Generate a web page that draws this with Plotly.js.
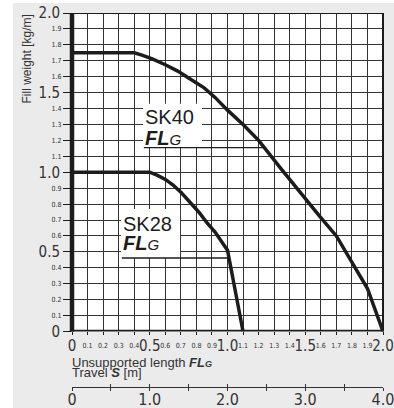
<!DOCTYPE html>
<html><head><meta charset="utf-8">
<script src="https://cdn.plot.ly/plotly-3.0.1.min.js"></script>
<style>html,body{margin:0;padding:0;background:#fff}</style>
</head><body><div id="chart" style="width:394px;height:408px"></div>
<script>
// ---- data ----
const sk40X = [0, 0.4, 0.45, 0.52, 0.6, 0.68, 0.76, 0.85, 0.92, 1.0, 1.1, 1.2, 1.35, 1.5, 1.6, 1.7, 1.9, 2.0];
const sk40Y = [1.75, 1.75, 1.735, 1.71, 1.675, 1.635, 1.585, 1.53, 1.47, 1.39, 1.30, 1.20, 1.015, 0.83, 0.715, 0.60, 0.27, 0];
const sk28X = [0, 0.5, 0.55, 0.6, 0.65, 0.7, 0.76, 0.82, 0.87, 0.92, 1.0, 1.1];
const sk28Y = [1.0, 1.0, 0.98, 0.955, 0.92, 0.875, 0.81, 0.745, 0.68, 0.625, 0.51, 0];

const xMajorVals = [0, 0.5, 1.0, 1.5, 2.0];
const xMajorText = ['0', '0.5', '1.0', '1.5', '2.0'];
const xMinorVals = [0.1,0.2,0.3,0.4,0.6,0.7,0.8,0.9,1.1,1.2,1.3,1.4,1.6,1.7,1.8,1.9];
const xMinorText = ['0.1','0.2','0.3','0.4','0.6','0.7','0.8','0.9','1.1','1.2','1.3','1.4','1.6','1.7','1.8','1.9'];
const yMajorVals = [0, 0.5, 1.0, 1.5, 2.0];
const yMajorText = ['0', '0.5', '1.0', '1.5', '2.0'];
const yMinorVals = [0.1,0.2,0.3,0.4,0.6,0.7,0.8,0.9,1.1,1.2,1.3,1.4,1.6,1.7,1.8,1.9];
const yMinorText = ['0.1','0.2','0.3','0.4','0.6','0.7','0.8','0.9','1.1','1.2','1.3','1.4','1.6','1.7','1.8','1.9'];
const travelVals = [0, 0.5, 1.0, 1.5, 2.0, 2.5, 3.0, 3.5, 4.0];
const travelText = ['0', ' ', '1.0', ' ', '2.0', ' ', '3.0', ' ', '4.0'];

const seriesNames = ['SK40', 'SK28'];
const yTitle = 'Fill weight [kg/m]';
const xTitle1 = 'Unsupported length <b><i>FL<span style="font-size:9px">G</span></i></b>';
const xTitle2 = 'Travel <b><i>S</i></b> [m]';
const flgLabel = '<b><i>FL</i></b><i><span style="font-size:15px">G</span></i>';

// ---- styling ----
const NARROW = '"Liberation Sans Narrow", "DejaVu Sans Condensed", Arial, sans-serif';
const SANS = '"Liberation Sans", Arial, sans-serif';
const INK = '#1c1c1c';
const GRID = '#333333';
const TXT = '#333333';
const BG = '#ebebeb';
const Y0 = 0.1484;

const hidden = {type: 'scatter', mode: 'lines', line: {width: 0, color: 'rgba(0,0,0,0)'},
                hoverinfo: 'skip', showlegend: false};
const traces = [
  {x: sk40X, y: sk40Y, name: seriesNames[0], type: 'scatter', mode: 'lines',
   line: {color: INK, width: 3.5}, hoverinfo: 'skip', cliponaxis: false},
  {x: sk28X, y: sk28Y, name: seriesNames[1], type: 'scatter', mode: 'lines',
   line: {color: INK, width: 3.5}, hoverinfo: 'skip', cliponaxis: false},
  // carriers so the overlaid label axes are drawn (no visible marks)
  Object.assign({}, hidden, {x: travelVals, y: travelVals.map(() => null), xaxis: 'x2', yaxis: 'y'}),
  Object.assign({}, hidden, {x: xMinorVals, y: xMinorVals.map(() => null), xaxis: 'x3', yaxis: 'y'}),
  Object.assign({}, hidden, {x: travelVals, y: travelVals.map(() => null), xaxis: 'x4', yaxis: 'y'}),
  Object.assign({}, hidden, {x: yMinorVals.map(() => null), y: yMinorVals, xaxis: 'x', yaxis: 'y2'})
];

const layout = {
  width: 394, height: 408,
  margin: {l: 72, r: 11, t: 13, b: 21, pad: 0},
  paper_bgcolor: BG, plot_bgcolor: '#ffffff',
  showlegend: false,
  xaxis: {domain: [0, 1], range: [0, 2], anchor: 'y', tickmode: 'array',
    tickvals: xMajorVals, ticktext: xMajorText, ticks: 'outside', ticklen: 3, tickcolor: INK,
    showgrid: true, gridcolor: GRID, gridwidth: 1, zeroline: false, showline: false,
    ticklabelstandoff: -2, ticklabeloverflow: 'allow',
    tickfont: {family: NARROW, size: 15, color: TXT}, fixedrange: true,
    minor: {tickmode: 'array', tickvals: xMinorVals, showgrid: true, gridcolor: GRID, gridwidth: 1,
            ticks: 'outside', ticklen: 3, tickcolor: INK}},
  xaxis3: {overlaying: 'x', anchor: 'y', range: [0, 2], tickmode: 'array',
    tickvals: xMinorVals, ticktext: xMinorText, ticks: 'outside', ticklen: 3, tickcolor: INK,
    showgrid: false, zeroline: false, showline: false, ticklabelstandoff: 4,
    tickfont: {family: NARROW, size: 7, color: TXT}, fixedrange: true},
  xaxis2: {overlaying: 'x', anchor: 'free', position: 0, range: [0, 4], tickmode: 'array',
    tickvals: travelVals, ticktext: travelText, ticks: 'outside', ticklen: 3, tickcolor: TXT,
    showline: true, linecolor: TXT, linewidth: 1, showgrid: false, zeroline: false,
    ticklabelstandoff: -5, ticklabeloverflow: 'allow',
    tickfont: {family: NARROW, size: 16, color: TXT}, fixedrange: true},
  xaxis4: {overlaying: 'x', anchor: 'free', position: 0, range: [0, 4], tickmode: 'array',
    tickvals: travelVals, ticks: 'inside', ticklen: 3, tickcolor: TXT, showticklabels: false,
    showgrid: false, zeroline: false, showline: false, fixedrange: true},
  yaxis: {domain: [Y0, 1], range: [0, 2], anchor: 'x', tickmode: 'array',
    tickvals: yMajorVals, ticktext: yMajorText, ticks: 'outside', ticklen: 8, tickcolor: INK,
    showgrid: true, gridcolor: GRID, gridwidth: 1, zeroline: false, showline: false,
    ticklabeloverflow: 'allow',
    tickfont: {family: NARROW, size: 15, color: TXT}, fixedrange: true,
    minor: {tickmode: 'array', tickvals: yMinorVals, showgrid: true, gridcolor: GRID, gridwidth: 1,
            ticks: 'outside', ticklen: 8, tickcolor: INK}},
  yaxis2: {overlaying: 'y', anchor: 'x', side: 'left', range: [0, 2], tickmode: 'array',
    tickvals: yMinorVals, ticktext: yMinorText, ticks: 'outside', ticklen: 8, tickcolor: INK,
    showgrid: false, zeroline: false, showline: false,
    tickfont: {family: NARROW, size: 7, color: TXT}, fixedrange: true},
  shapes: [
    // white page strips outside the grey panel
    {type: 'rect', xref: 'paper', yref: 'paper', x0: -0.25, x1: -0.1897, y0: -0.1, y1: 1.1,
     fillcolor: '#ffffff', line: {width: 0}, layer: 'above'},
    {type: 'rect', xref: 'paper', yref: 'paper', x0: -0.25, x1: 1.1, y0: 1.0267, y1: 1.1,
     fillcolor: '#ffffff', line: {width: 0}, layer: 'above'},
    // label backgrounds
    {type: 'rect', xref: 'x', yref: 'y', x0: 0.457, x1: 0.836, y0: 1.155, y1: 1.43,
     fillcolor: '#ffffff', line: {width: 0}, layer: 'above'},
    {type: 'rect', xref: 'x', yref: 'y', x0: 0.315, x1: 0.695, y0: 0.4615, y1: 0.77,
     fillcolor: '#ffffff', line: {width: 0}, layer: 'above'},
    // underlines
    {type: 'line', xref: 'x', yref: 'y', x0: 0.462, x1: 1.24, y0: 1.155, y1: 1.155,
     line: {color: INK, width: 1.3}, layer: 'above'},
    {type: 'line', xref: 'x', yref: 'y', x0: 0.32, x1: 1.01, y0: 0.4615, y1: 0.4615,
     line: {color: INK, width: 1.3}, layer: 'above'},
    // frame
    {type: 'line', xref: 'paper', yref: 'y', x0: 0, x1: 1, y0: 2, y1: 2,
     line: {color: INK, width: 2}, layer: 'above'},
    {type: 'line', xref: 'paper', yref: 'y', x0: 1, x1: 1, y0: 0, y1: 2,
     line: {color: INK, width: 2}, layer: 'above'},
    {type: 'line', xref: 'paper', yref: 'y', x0: 0, x1: 0, y0: -0.01, y1: 2.005,
     line: {color: INK, width: 4.5}, layer: 'above'},
    {type: 'line', xref: 'paper', yref: 'y', x0: -0.006, x1: 1.003, y0: -0.004, y1: -0.004,
     line: {color: INK, width: 5}, layer: 'above'}
  ],
  annotations: [
    {xref: 'paper', yref: 'paper', x: -0.1447, y: 0.8783, xanchor: 'center', yanchor: 'middle',
     text: yTitle, textangle: -90, showarrow: false, font: {family: SANS, size: 12, color: TXT}},
    {xref: 'paper', yref: 'paper', x: -0.006, y: 0.0655, xanchor: 'left', yanchor: 'middle',
     text: xTitle1, showarrow: false, font: {family: SANS, size: 13, color: TXT}},
    {xref: 'paper', yref: 'paper', x: -0.006, y: 0.0388, xanchor: 'left', yanchor: 'middle',
     text: xTitle2, showarrow: false, font: {family: SANS, size: 13, color: TXT}},
    {xref: 'x', yref: 'y', x: 0.455, y: 1.349, xanchor: 'left', yanchor: 'middle',
     text: seriesNames[0], showarrow: false, font: {family: SANS, size: 20, color: INK}},
    {xref: 'x', yref: 'y', x: 0.455, y: 1.212, xanchor: 'left', yanchor: 'middle',
     text: flgLabel, showarrow: false, font: {family: SANS, size: 20, color: INK}},
    {xref: 'x', yref: 'y', x: 0.313, y: 0.673, xanchor: 'left', yanchor: 'middle',
     text: seriesNames[1], showarrow: false, font: {family: SANS, size: 20, color: INK}},
    {xref: 'x', yref: 'y', x: 0.313, y: 0.553, xanchor: 'left', yanchor: 'middle',
     text: flgLabel, showarrow: false, font: {family: SANS, size: 20, color: INK}}
  ]
};

Plotly.newPlot('chart', traces, layout, {displayModeBar: false, staticPlot: true});
</script>
</body></html>
